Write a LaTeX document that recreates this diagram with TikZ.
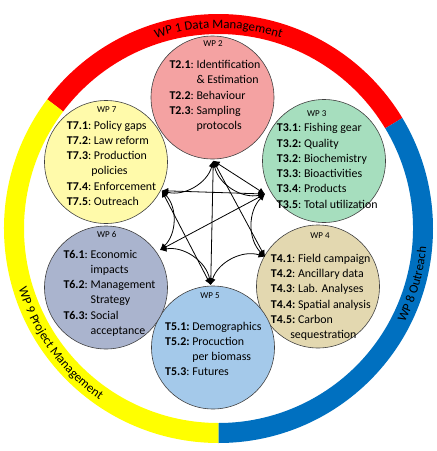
\documentclass[tikz,border=0pt]{standalone}
\usepackage{fontspec}
\setmainfont{Carlito}
\usetikzlibrary{decorations.text,arrows.meta}
\definecolor{ringred}{RGB}{255,0,0}
\definecolor{ringyellow}{RGB}{255,255,0}
\definecolor{ringblue}{RGB}{0,112,192}
\definecolor{cpink}{RGB}{244,162,162}
\definecolor{cgreen}{RGB}{166,222,190}
\definecolor{cyellow}{RGB}{255,250,170}
\definecolor{cgray}{RGB}{170,180,206}
\definecolor{cblue}{RGB}{164,201,234}
\definecolor{ctan}{RGB}{227,216,176}
\newcommand\ringfont{\fontsize{12.8pt}{14pt}\selectfont}
\newcommand\taskfont{\fontsize{11.9pt}{15.3pt}\selectfont}
\newcommand\wpfont{\fontsize{9pt}{10pt}\selectfont}
\newenvironment{tasklist}{\begin{tabular}[t]{@{}l@{\hspace{2.7pt}}l@{}}}{\end{tabular}}
\begin{document}
\begin{tikzpicture}[x=1pt,y=1pt,
  wpcircle/.style={circle, draw=black!75, line width=0.6pt, minimum size=123pt, inner sep=0pt},
  wplabel/.style={anchor=base, inner sep=0pt, font=\wpfont},
  tasks/.style={anchor=base west, inner sep=0pt, font=\taskfont},
  conn/.style={line width=0.8pt, {Latex[length=6.5pt,width=6pt]}-{Latex[length=6.5pt,width=6pt]}},
  ringtext/.style={decorate, decoration={text along path, text align=center, text={|\ringfont|#1}}}
]
\useasboundingbox (0,0) rectangle (437,-451);
\coordinate (ringc) at (218.5,-228.5);
% ring segments
\fill[ringred] ([shift={(31:214.5)}]ringc) arc[start angle=31,end angle=143,radius=214.5]
  -- ([shift={(143:194.5)}]ringc) arc[start angle=143,end angle=31,radius=194.5] -- cycle;
\fill[ringyellow] ([shift={(143:214.5)}]ringc) arc[start angle=143,end angle=270,radius=214.5]
  -- ([shift={(270:194.5)}]ringc) arc[start angle=270,end angle=143,radius=194.5] -- cycle;
\fill[ringblue] ([shift={(-90:214.5)}]ringc) arc[start angle=-90,end angle=31,radius=214.5]
  -- ([shift={(31:194.5)}]ringc) arc[start angle=31,end angle=-90,radius=194.5] -- cycle;
% ring texts
\path[ringtext={WP 1 Data Management}] ([shift={(125:200.3)}]ringc) arc[start angle=125,end angle=55,radius=200.3];
\path[ringtext={WP 9 Project Management}] ([shift={(186:208.7)}]ringc) arc[start angle=186,end angle=246,radius=208.7];
\path[ringtext={WP 8 Outreach}] ([shift={(-46:208.7)}]ringc) arc[start angle=-46,end angle=14,radius=208.7];
% circles
\node[wpcircle, fill=cpink]   (wp2) at (212.5,-97.5) {};
\node[wpcircle, fill=cgreen]  (wp3) at (324,-161) {};
\node[wpcircle, fill=ctan]    (wp4) at (318,-286.5) {};
\node[wpcircle, fill=cblue]   (wp5) at (213,-347.5) {};
\node[wpcircle, fill=cgray]   (wp6) at (106,-287.5) {};
\node[wpcircle, fill=cyellow] (wp7) at (106,-162) {};
% labels
\node[wplabel] (l2) at (213,-46.3) {WP 2};
\node[wplabel] (l3) at (316.7,-116) {WP 3};
\node[wplabel] (l4) at (320,-238) {WP 4};
\node[wplabel] (l5) at (210,-298) {WP 5};
\node[wplabel] (l6) at (106.7,-237) {WP 6};
\node[wplabel] (l7) at (106.7,-112.3) {WP 7};
% tasks
\node[tasks] (t2) at (169.3,-68.5) {\begin{tasklist}
\textbf{T2.1}: & Identification\\
 & \& Estimation\\
\textbf{T2.2}: & Behaviour\\
\textbf{T2.3}: & Sampling\\
 & protocols
\end{tasklist}};
\node[tasks] (t3) at (276.7,-131.7) {\begin{tasklist}
\textbf{T3.1}: & Fishing gear\\
\textbf{T3.2:} & Quality\\
\textbf{T3.2}: & Biochemistry\\
\textbf{T3.3}: & Bioactivities\\
\textbf{T3.4}: & Products\\
\textbf{T3.5}: & Total utilization
\end{tasklist}};
\node[tasks] (t7) at (66.7,-129) {\begin{tasklist}
\textbf{T7.1}: & Policy gaps\\
\textbf{T7.2}: & Law reform\\
\textbf{T7.3}: & Production\\
 & \hspace{-2.6pt}policies\\
\textbf{T7.4}: & Enforcement\\
\textbf{T7.5}: & Outreach
\end{tasklist}};
\node[tasks] (t6) at (63.3,-258) {\begin{tasklist}
\textbf{T6.1}: & Economic\\
 & impacts\\
\textbf{T6.2}: & Management\\
 & Strategy\\
\textbf{T6.3:} & Social\\
 & acceptance
\end{tasklist}};
\node[tasks] (t5) at (165,-330) {\begin{tasklist}
\textbf{T5.1:} & Demographics\\
\textbf{T5.2:} & Procuction\\
 & per biomass\\
\textbf{T5.3}: & Futures
\end{tasklist}};
\node[tasks] (t4) at (270.7,-262.3) {\begin{tasklist}
\textbf{T4.1}: & Field campaign\\
\textbf{T4.2}: & Ancillary data\\
\textbf{T4.3}: & Lab. Analyses\\
\textbf{T4.4:} & Spatial analysis\\
\textbf{T4.5:} & Carbon\\
 & \hspace{-7.7pt}sequestration
\end{tasklist}};
% junctions
\coordinate (jA) at (213.3,-160.7);
\coordinate (jB) at (161.7,-190.7);
\coordinate (jC) at (265,-194);
\coordinate (jD) at (160,-250);
\coordinate (jE) at (265,-256.7);
\coordinate (jF) at (210.7,-285);
% connectors
\draw[conn] (jA) to[bend left=45] (jB);
\draw[conn] (jB) to[bend left=45] (jD);
\draw[conn] (jD) to[bend left=45] (jF);
\draw[conn] (jF) to[bend left=45] (jE);
\draw[conn] (jE) to[bend left=45] (jC);
\draw[conn] (jC) to[bend left=45] (jA);
\draw[conn] (jA) -- (jF);
\draw[conn] (jB) -- (jC);
\draw[conn] (jA) -- (jC);
\draw[conn] (jA) -- (jE);
\draw[conn] (jB) -- (jF);
\draw[conn] (jC) -- (jD);
\end{tikzpicture}
\end{document}
